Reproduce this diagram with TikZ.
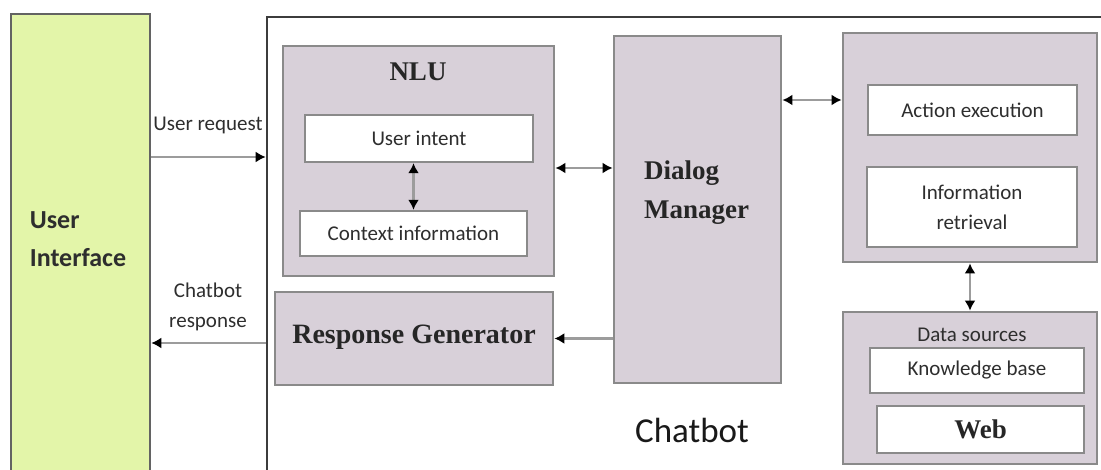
\documentclass[tikz,border=0pt]{standalone}
\usepackage{fontspec}
\setmainfont{Liberation Serif}
\newfontfamily\lblfont{Carlito}
\usetikzlibrary{arrows.meta}

\definecolor{uigreen}{HTML}{E3F5A9}
\definecolor{boxfill}{HTML}{D8D0D9}
\definecolor{edgegray}{HTML}{8A8A8A}
\definecolor{wiregray}{HTML}{9C9C9C}
\definecolor{frame}{HTML}{3C3C3C}
\definecolor{ink}{HTML}{2E2E2E}

\tikzset{
  panel/.style={draw=edgegray, line width=2.8pt, fill=boxfill, inner sep=0pt},
  slot/.style={draw=edgegray, line width=2.4pt, fill=white, inner sep=0pt,
    align=center, text=ink, font=\lblfont\fontsize{21}{30}\selectfont},
  lbl/.style={inner sep=0pt, align=center, text=ink,
    font=\lblfont\fontsize{21}{30}\selectfont},
  heading/.style={inner sep=0pt, align=left, text=black!85,
    font=\bfseries\fontsize{27}{39}\selectfont},
  link/.style={draw=wiregray, line width=2.4pt},
  >={Latex[length=10pt,width=11pt,color=black]}
}

\begin{document}
\begin{tikzpicture}[x=1pt,y=-1pt]
\useasboundingbox (0,0) rectangle (1101,470);
\clip (0,0) rectangle (1101,470);

% user interface column
\node[draw=frame!80, line width=2.6pt, fill=uigreen, inner sep=0pt,
      minimum width=139pt, minimum height=476pt] (ui) at (80.5,252) {};
\node[inner sep=0pt, align=left, text=ink,
      font=\lblfont\bfseries\fontsize{26}{38}\selectfont] (uitext) at (78,239) {User\\Interface};

% chatbot frame
\node[draw=frame, line width=2.6pt, fill=white, inner sep=0pt,
      minimum width=848pt, minimum height=473pt] (bot) at (691,253.5) {};
\node[inner sep=0pt, text=black!90, font=\lblfont\fontsize{35}{40}\selectfont] (bottitle) at (692,430) {Chatbot};

% NLU
\node[panel, minimum width=271pt, minimum height=230pt] (nlu) at (418.5,161) {};
\node[heading] (nlutitle) at (418,72) {NLU};
\node[slot, minimum width=228pt, minimum height=47pt] (intent) at (419,138.5) {User intent};
\node[slot, minimum width=227pt, minimum height=45pt] (context) at (413.5,233.5) {Context information};

% response generator
\node[panel, minimum width=278pt, minimum height=93pt] (rg) at (414,338.5) {};
\node[heading, font=\bfseries\fontsize{28}{39}\selectfont] (rgtext) at (414,337) {Response Generator};

% dialog manager
\node[panel, minimum width=167pt, minimum height=347pt] (dm) at (697.5,209.5) {};
\node[heading, anchor=west] (dmtext) at (644,193) {Dialog\\Manager};

% actions
\node[panel, minimum width=254pt, minimum height=229pt] (tools) at (970,147.5) {};
\node[slot, minimum width=209pt, minimum height=50pt] (action) at (972.5,110) {Action execution};
\node[slot, minimum width=210pt, minimum height=80pt] (retrieval) at (972,207) {Information\\retrieval};

% data sources
\node[panel, minimum width=254pt, minimum height=152pt] (data) at (970,388) {};
\node[lbl] (datatitle) at (972,335) {Data sources};
\node[slot, minimum width=214pt, minimum height=45pt] (kb) at (977,370.5) {Knowledge base};
\node[slot, minimum width=207pt, minimum height=47pt, text=black!85,
      font=\bfseries\fontsize{27}{30}\selectfont] (web) at (980.5,429.5) {Web};

% connectors
\draw[link,<->] (context.north |- intent.south) -- (context.north);
\draw[link,<->] ([yshift=-7pt]nlu.east) -- ([yshift=-7pt]nlu.east -| dm.west);
\draw[link,<->] ([yshift=109.5pt]dm.east) -- ([yshift=109.5pt]dm.east -| tools.west);
\draw[link,<->] (tools.south) -- (data.north);
\draw[link,->] (dm.west |- rg.east) -- (rg.east);
\draw[link,->] ([yshift=95pt]ui.east) -- ([yshift=95pt]ui.east -| bot.west);
\draw[link,->] ([yshift=-91pt]ui.east -| bot.west) -- ([yshift=-91pt]ui.east);

% connector labels
\node[lbl] (reqtext) at (208,125) {User request};
\node[lbl] (resptext) at (208,307) {Chatbot\\response};
\end{tikzpicture}
\end{document}
